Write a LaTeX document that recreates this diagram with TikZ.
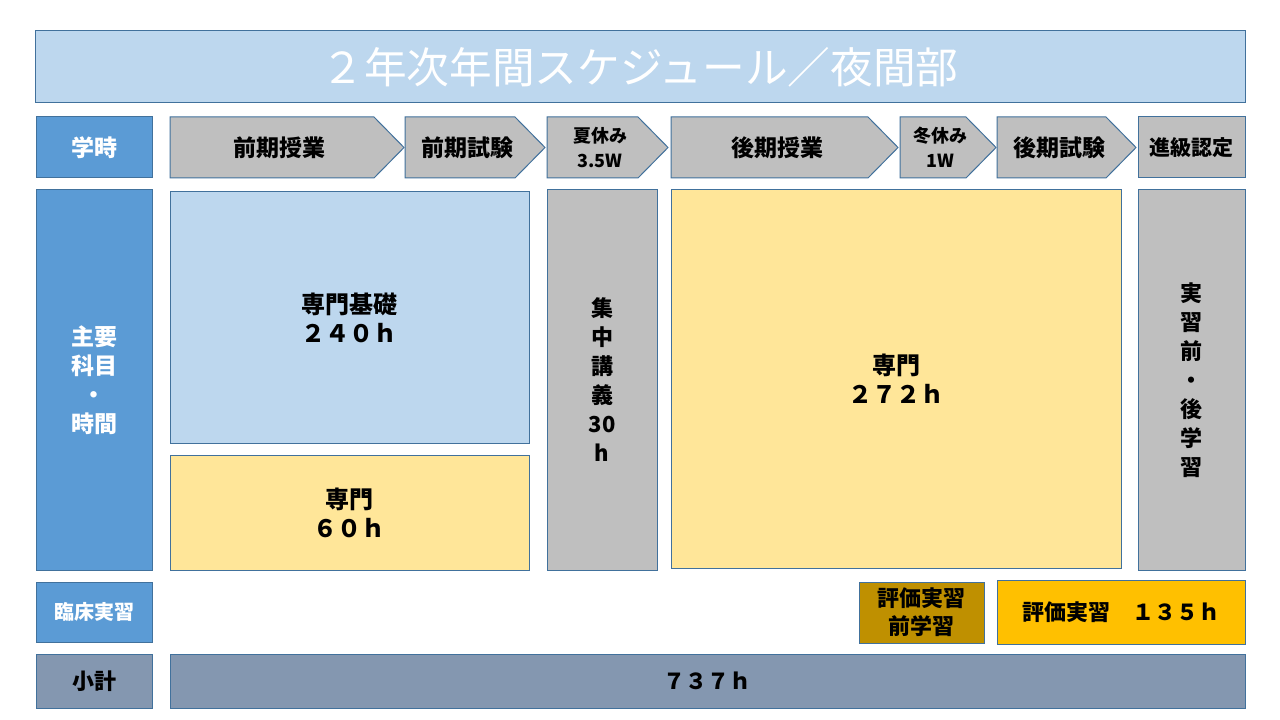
\documentclass[tikz,border=0pt]{standalone}
\usepackage{fontspec}
\setmainfont{Noto Sans CJK JP}
\definecolor{bord}{HTML}{41719C}
\definecolor{titlefill}{HTML}{BDD7EE}
\definecolor{labblue}{HTML}{5B9BD5}
\definecolor{greyf}{HTML}{BFBFBF}
\definecolor{lblue}{HTML}{BDD7EE}
\definecolor{lyellow}{HTML}{FFE699}
\definecolor{goldf}{HTML}{BF9000}
\definecolor{amberf}{HTML}{FFC000}
\definecolor{slatef}{HTML}{8497B0}
\newcommand\fsz[2]{\fontsize{#1}{#2}\selectfont}
\newcommand\rbox[8]{\draw[box,fill=#5] (#1,#2) rectangle (#3,#4);
  \node[txt,#7] (#6) at ({(#1+#3)/2},{(#2+#4)/2}) {#8};}
\newcommand\chev[5]{\draw[box,fill=greyf] (#1,117) -- ({#2-30},117) -- (#2,147.5) -- ({#2-30},178) -- (#1,178) -- cycle;
  \node[txt,#4] (#3) at ({(#1+#2-15)/2},147.5) {#5};}
\begin{document}
\begin{tikzpicture}[x=0.75pt,y=-0.75pt]
\tikzset{
  box/.style={draw=bord, line width=0.75pt},
  txt/.style={align=center, inner sep=0pt, font=\bfseries\fsz{18}{21.75}},
  big/.style={font=\bfseries\fsz{17.25}{21}},
  small/.style={font=\bfseries\fsz{13.5}{18.5}},
  mid/.style={font=\bfseries\fsz{16.5}{21.75}},
  wtext/.style={text=white},
}
\useasboundingbox (0,0) rectangle (1280,720);
\fill[white] (0,0) rectangle (1280,720);

% title
\rbox{35}{31}{1245}{103}{titlefill}{title}{wtext,font=\mdseries\fsz{32}{36}}{２年次年間スケジュール／夜間部}

% left labels
\rbox{36}{117}{152}{178}{labblue}{lgakuji}{wtext,big}{学時}
\rbox{36}{190}{152}{570}{labblue}{lkamoku}{wtext,font=\bfseries\fsz{17.25}{21.75}}{主要\\科目\\・\\時間}
\rbox{36}{582}{152}{642}{labblue}{lrinsho}{wtext,font=\bfseries\fsz{15}{18}}{臨床実習}
\rbox{36}{654}{152}{708}{slatef}{lshokei}{mid}{小計}

% chevrons
\chev{170}{404}{zenki}{big}{前期授業}
\chev{405}{545}{zshiken}{big}{前期試験}
\chev{547}{668}{natsu}{small}{夏休み\\3.5W}
\chev{671}{898}{kouki}{big}{後期授業}
\chev{900}{996}{fuyu}{small}{冬休み\\1W}
\chev{997}{1136}{kshiken}{big}{後期試験}
\rbox{1138}{117}{1245}{178}{greyf}{shinkyu}{font=\bfseries\fsz{15.75}{18}}{進級認定}

% main boxes
\rbox{170}{192}{529}{443}{lblue}{kiso}{}{専門基礎\\２４０ｈ}
\rbox{170}{455}{529}{570}{lyellow}{senmon1}{}{専門\\６０ｈ}
\rbox{547}{190}{657}{570}{greyf}{shuchu}{mid}{集\\中\\講\\義\\30\\h}
\rbox{671}{190}{1121}{568}{lyellow}{senmon2}{}{専門\\２７２ｈ}
\rbox{1138}{190}{1245}{570}{greyf}{jisshu}{mid}{実\\習\\前\\・\\後\\学\\習}

% clinical
\rbox{859}{582}{984}{643}{goldf}{maegaku}{font=\bfseries\fsz{16.5}{21}}{評価実習\\前学習}
\rbox{997}{580}{1245}{644}{amberf}{hyoka}{mid}{評価実習　１３５ｈ}

% subtotal
\rbox{170}{654}{1245}{708}{slatef}{total}{mid}{７３７ｈ}
\end{tikzpicture}
\end{document}
